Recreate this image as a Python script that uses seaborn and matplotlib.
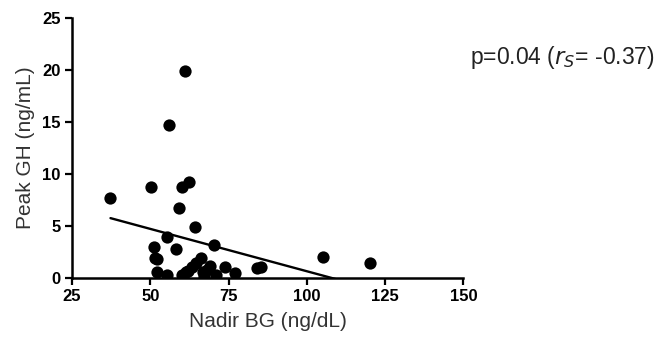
import numpy as np
import pandas as pd
import matplotlib
matplotlib.use("Agg")
import matplotlib.pyplot as plt
import seaborn as sns

# Nadir BG (ng/dL) and Peak GH (ng/mL)
nadir_bg = [37.3, 50.1, 61.2, 56.1, 60.2, 62.3, 59.2, 64.2, 55.2, 51.3,
            58.1, 70.2, 51.4, 52.3, 66.1, 52.3, 55.3, 60.2, 61.3, 63.2,
            67.0, 67.1, 69.2, 68.0, 71.0, 74.0, 77.2, 84.2, 85.3, 105.2,
            120.2, 62.0, 64.5]
peak_gh = [7.7, 8.7, 19.9, 14.7, 8.7, 9.2, 6.75, 4.87, 3.94, 2.98,
           2.78, 3.14, 1.92, 1.86, 1.95, 0.58, 0.32, 0.32, 0.54, 1.06,
           0.58, 0.1, 1.15, 0.8, 0.32, 1.06, 0.48, 0.96, 1.06, 1.98,
           1.44, 0.7, 1.4]

xticks = [25, 50, 75, 100, 125, 150]
yticks = [0, 5, 10, 15, 20, 25]

df = pd.DataFrame({"Nadir BG (ng/dL)": nadir_bg, "Peak GH (ng/mL)": peak_gh})

sns.set_style("ticks")
plt.rcParams['font.family'] = ['Liberation Sans', 'DejaVu Sans']

fig = plt.figure(figsize=(6.69, 3.44), dpi=100)
ax = fig.add_axes([0.1076, 0.192, 0.585, 0.756])

sns.regplot(data=df, x="Nadir BG (ng/dL)", y="Peak GH (ng/mL)", ax=ax, ci=None,
            color="black", truncate=True,
            scatter_kws={"s": 78, "alpha": 1, "linewidths": 0},
            line_kws={"linewidth": 1.7})

ax.set_xlim(25, 150)
ax.set_ylim(0, 25)
ax.set_xticks(xticks)
ax.set_yticks(yticks)
ax.tick_params(axis="both", direction="out", length=5, width=1.6,
               labelsize=12, colors="black", pad=3)
for lab in ax.get_xticklabels() + ax.get_yticklabels():
    lab.set_fontweight("bold")
for s in ["left", "bottom"]:
    ax.spines[s].set_linewidth(1.8)
    ax.spines[s].set_color("black")
sns.despine(ax=ax)

ax.set_xlabel("Nadir BG (ng/dL)", fontsize=15, color="#333333", labelpad=6)
ax.set_ylabel("Peak GH (ng/mL)", fontsize=15, color="#333333", labelpad=5)

fig.text(0.703, 0.834, r"p=0.04 ($r_S$= -0.37)", fontsize=16.5, color="#222222",
         ha="left", va="center")

fig.savefig("out.png", dpi=100)
